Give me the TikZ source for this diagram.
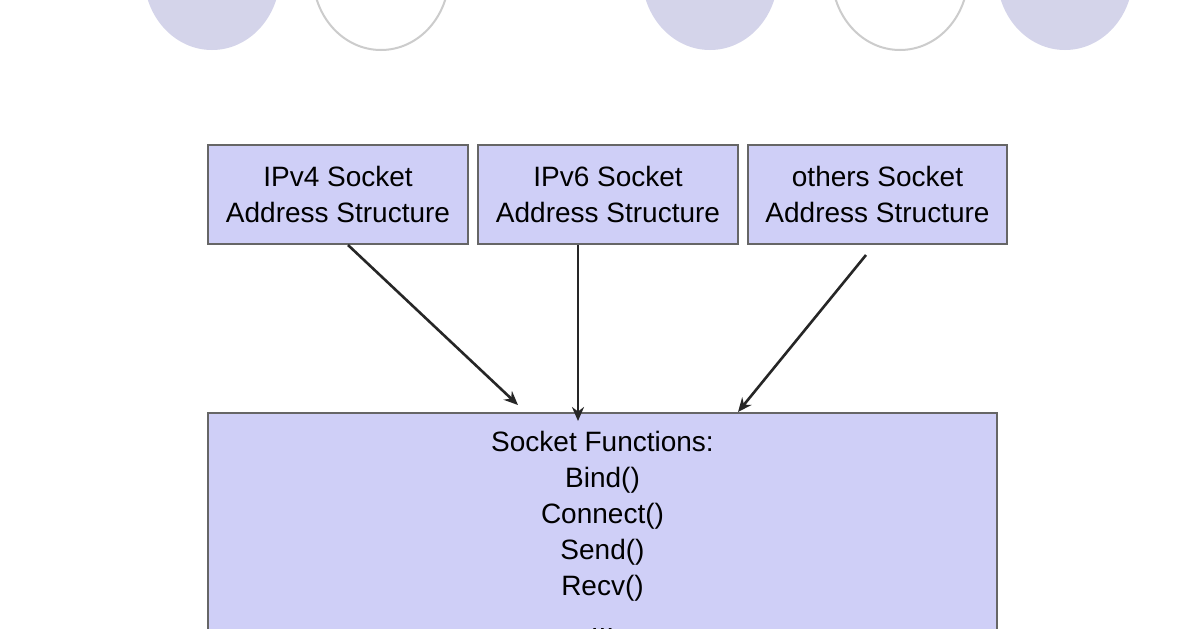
\documentclass[tikz,border=0pt]{standalone}
\usepackage{fontspec}
\setmainfont{Liberation Sans}
\usetikzlibrary{arrows.meta}
\definecolor{lav}{HTML}{CFCFF7}
\definecolor{circ}{HTML}{D4D4EA}
\begin{document}
\begin{tikzpicture}[x=0.5pt,y=-0.5pt,
  box/.style={draw=gray!80!black,fill=lav,line width=1pt,inner sep=0pt,align=center,font=\fontsize{14}{18}\selectfont},
  arr/.style={-{Stealth[length=7pt,width=6pt]},line width=1.3pt,black!85}]
\useasboundingbox[fill=white] (0,0) rectangle (1196,628);
\begin{scope}
\clip (0,0) rectangle (1196,628);
\fill[circ] (212,-25) ellipse [x radius=68, y radius=75];
\draw[gray!40,line width=1pt] (381,-25) ellipse [x radius=68, y radius=75];
\fill[circ] (710,-25) ellipse [x radius=68, y radius=75];
\draw[gray!40,line width=1pt] (900,-25) ellipse [x radius=68, y radius=75];
\fill[circ] (1065,-25) ellipse [x radius=68, y radius=75];
\node[box,minimum width=130pt,minimum height=49.5pt] (v4) at (338,194.5) {IPv4 Socket\\Address Structure};
\node[box,minimum width=130pt,minimum height=49.5pt] (v6) at (608,194.5) {IPv6 Socket\\Address Structure};
\node[box,minimum width=129.5pt,minimum height=49.5pt] (ot) at (877.5,194.5) {others Socket\\Address Structure};
\node[box,minimum width=394.5pt,minimum height=120pt,anchor=north] (sf) at (602.5,412) {};
\node[font=\fontsize{14}{18}\selectfont,align=center,anchor=north] (txt) at (602.5,424) {Socket Functions:\\Bind()\\Connect()\\Send()\\Recv()\\...};
\coordinate (a1) at (348,245); \coordinate (b1) at (518,405);
\coordinate (a2) at (578,245); \coordinate (b2) at (578,421);
\coordinate (a3) at (866,255); \coordinate (b3) at (738,412);
\draw[arr] (a1) -- (b1);
\draw[arr] (a2) -- (b2);
\draw[arr] (a3) -- (b3);
\end{scope}
\end{tikzpicture}
\end{document}
